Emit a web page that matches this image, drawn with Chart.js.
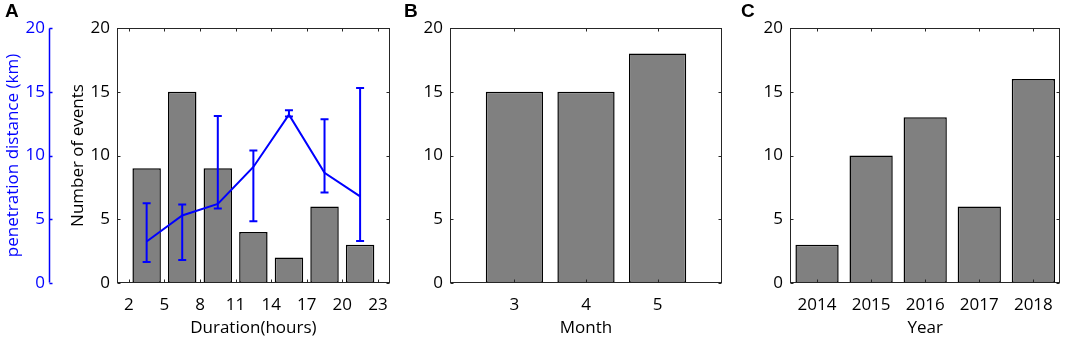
<!DOCTYPE html>
<html>
<head>
<meta charset="utf-8">
<script src="https://cdn.jsdelivr.net/npm/chart.js@4.4.0/dist/chart.umd.min.js"></script>
<style>
  body { margin: 0; background: #fff; }
  #wrap { position: relative; width: 1065px; height: 340px; overflow: hidden; }
  canvas { position: absolute; top: 0; }
  .tag { position: absolute; top: 1px; font: bold 19px "Liberation Sans", Arial, sans-serif; color: #000; line-height: 19px; }
</style>
</head>
<body>
<div id="wrap">
  <canvas id="chartA" width="400" height="340" style="left:0"></canvas>
  <canvas id="chartB" width="330" height="340" style="left:400px"></canvas>
  <canvas id="chartC" width="325" height="340" style="left:740px"></canvas>
  <div class="tag" style="left:5px">A</div>
  <div class="tag" style="left:404px">B</div>
  <div class="tag" style="left:741px">C</div>
</div>
<script>
// panel A: duration bins (hours)
var durTicks = [2, 5, 8, 11, 14, 17, 20, 23];
var durCenters = [3.5, 6.5, 9.5, 12.5, 15.5, 18.5, 21.5];
var durCounts = [9, 15, 9, 4, 2, 6, 3];
// penetration distance (km): mean and error bar ends
var penMean = [3.25, 5.3, 6.2, 9.1, 13.2, 8.65, 6.8];
var penLow = [1.65, 1.8, 5.85, 4.85, 13.05, 7.1, 3.3];
var penHigh = [6.25, 6.15, 13.1, 10.4, 13.55, 12.85, 15.3];
// panel B: month
var months = [3, 4, 5];
var monthCounts = [15, 15, 18];
// panel C: year
var years = ['2014', '2015', '2016', '2017', '2018'];
var yearCounts = [3, 10, 13, 6, 16];
var countTicks = [0, 5, 10, 15, 20];

var fs = 17;
Chart.defaults.font.family = '"Open Sans", "Noto Sans", sans-serif';
Chart.defaults.font.size = fs;
Chart.defaults.color = '#000';
Chart.defaults.animation = false;

var axisColor = '#262626';
var barFill = '#808080';
var barEdge = '#000';
var blue = '#0000ff';

function setTicks(list) {
  return function (scale) {
    scale.ticks = list.map(function (v) { return { value: v }; });
  };
}
function fixWidth(w) { return function (s) { s.width = w; }; }
function fixHeight(h) { return function (s) { s.height = h; }; }

// matlab-like box with inward ticks on all four sides
var boxPlugin = {
  id: 'box',
  afterDatasetsDraw: function (chart) {
    var ctx = chart.ctx, a = chart.chartArea;
    var L = Math.round(a.left) + 0.5, R = Math.round(a.right) - 0.5;
    var T = Math.round(a.top) + 0.5, B = Math.round(a.bottom) - 0.5;
    var len = 3;
    ctx.save();
    ctx.strokeStyle = axisColor;
    ctx.lineWidth = 1;
    ctx.strokeRect(L, T, R - L, B - T);
    var xs = chart.scales.x, ys = chart.scales.y;
    ctx.beginPath();
    xs.ticks.forEach(function (t, i) {
      var px = Math.round(xs.getPixelForTick(i)) + 0.5;
      ctx.moveTo(px, B); ctx.lineTo(px, B - len);
      ctx.moveTo(px, T); ctx.lineTo(px, T + len);
    });
    ys.ticks.forEach(function (t, i) {
      var py = Math.round(ys.getPixelForTick(i)) + 0.5;
      ctx.moveTo(L, py); ctx.lineTo(L + len, py);
      ctx.moveTo(R, py); ctx.lineTo(R - len, py);
    });
    ctx.stroke();

    var ps = chart.scales.yPen;
    if (ps) {
      var bx = Math.round(ps.right) - 0.5;
      ctx.strokeStyle = blue;
      ctx.lineWidth = 1.5;
      ctx.beginPath();
      ctx.moveTo(bx, T); ctx.lineTo(bx, B);
      ps.ticks.forEach(function (t, i) {
        var py = Math.round(ps.getPixelForTick(i)) + 0.5;
        ctx.moveTo(bx, py); ctx.lineTo(bx + len, py);
      });
      ctx.stroke();
    }
    ctx.restore();
  }
};

// error bars for the penetration distance line
var errPlugin = {
  id: 'errbars',
  afterDatasetsDraw: function (chart) {
    if (!chart.scales.yPen) return;
    var ctx = chart.ctx, xs = chart.scales.x, ps = chart.scales.yPen;
    ctx.save();
    ctx.strokeStyle = blue;
    ctx.lineWidth = 2;
    ctx.beginPath();
    for (var i = 0; i < durCenters.length; i++) {
      var x = xs.getPixelForValue(durCenters[i]);
      var y1 = ps.getPixelForValue(penLow[i]);
      var y2 = ps.getPixelForValue(penHigh[i]);
      ctx.moveTo(x, y1); ctx.lineTo(x, y2);
      ctx.moveTo(x - 4, y1); ctx.lineTo(x + 4, y1);
      ctx.moveTo(x - 4, y2); ctx.lineTo(x + 4, y2);
    }
    ctx.stroke();
    ctx.restore();
  }
};

function countAxis(width, title) {
  var ax = {
    type: 'linear',
    min: 0, max: 20,
    afterBuildTicks: setTicks(countTicks),
    afterFit: fixWidth(width),
    grid: { display: false, drawTicks: false },
    border: { display: false },
    ticks: { padding: 7, color: '#000' }
  };
  if (title) {
    ax.title = { display: true, text: title, color: '#000', font: { size: fs }, padding: { top: 18, bottom: 0 } };
  }
  return ax;
}

function bottomAxis(extra, title) {
  var ax = {
    afterFit: fixHeight(57),
    grid: { display: false, drawTicks: false },
    border: { display: false },
    ticks: { padding: 12, color: '#000', maxRotation: 0, autoSkip: false },
    title: { display: true, text: title, color: '#000', font: { size: fs }, padding: { top: 0, bottom: 2 } }
  };
  for (var k in extra) ax[k] = extra[k];
  return ax;
}

var barStyle = {
  backgroundColor: barFill,
  borderColor: barEdge,
  borderWidth: 1.5,
  borderSkipped: false,
  barPercentage: 0.8,
  categoryPercentage: 1
};

// Panel A
new Chart(document.getElementById('chartA'), {
  type: 'bar',
  data: {
    datasets: [
      Object.assign({
        label: 'events',
        data: durCenters.map(function (c, i) { return { x: c, y: durCounts[i] }; }),
        yAxisID: 'y',
        order: 2
      }, barStyle),
      {
        type: 'line',
        label: 'penetration',
        data: durCenters.map(function (c, i) { return { x: c, y: penMean[i] }; }),
        yAxisID: 'yPen',
        borderColor: blue,
        borderWidth: 2,
        pointRadius: 0,
        tension: 0,
        fill: false,
        order: 1
      }
    ]
  },
  options: {
    responsive: false,
    devicePixelRatio: 1,
    layout: { padding: { left: 0, right: 9, top: 28, bottom: 0 } },
    plugins: { legend: { display: false }, tooltip: { enabled: false } },
    scales: {
      x: bottomAxis({ type: 'linear', min: 1, max: 24, offset: false, afterBuildTicks: setTicks(durTicks) }, 'Duration(hours)'),
      y: countAxis(67, 'Number of events'),
      yPen: {
        type: 'linear',
        position: 'left',
        weight: 1,
        min: 0, max: 20,
        afterBuildTicks: setTicks(countTicks),
        afterFit: fixWidth(50),
        grid: { display: false, drawTicks: false },
        border: { display: false },
        ticks: { padding: 5, color: blue },
        title: { display: true, text: 'penetration distance (km)', color: blue, font: { size: fs }, padding: { top: 3, bottom: 0 } }
      }
    }
  },
  plugins: [errPlugin, boxPlugin]
});

// Panel B
new Chart(document.getElementById('chartB'), {
  type: 'bar',
  data: {
    datasets: [Object.assign({
      label: 'month',
      data: months.map(function (m, i) { return { x: m, y: monthCounts[i] }; })
    }, barStyle)]
  },
  options: {
    responsive: false,
    devicePixelRatio: 1,
    layout: { padding: { left: 0, right: 8, top: 28, bottom: 0 } },
    plugins: { legend: { display: false }, tooltip: { enabled: false } },
    scales: {
      x: bottomAxis({ type: 'linear', min: 2.1, max: 5.9, offset: false, afterBuildTicks: setTicks(months) }, 'Month'),
      y: countAxis(50, null)
    }
  },
  plugins: [boxPlugin]
});

// Panel C
new Chart(document.getElementById('chartC'), {
  type: 'bar',
  data: {
    labels: years,
    datasets: [Object.assign({ label: 'year', data: yearCounts }, barStyle)]
  },
  options: {
    responsive: false,
    devicePixelRatio: 1,
    layout: { padding: { left: 0, right: 2, top: 28, bottom: 0 } },
    plugins: { legend: { display: false }, tooltip: { enabled: false } },
    scales: {
      x: bottomAxis({ type: 'category', offset: true }, 'Year'),
      y: countAxis(50, null)
    }
  },
  plugins: [boxPlugin]
});
</script>
</body>
</html>
